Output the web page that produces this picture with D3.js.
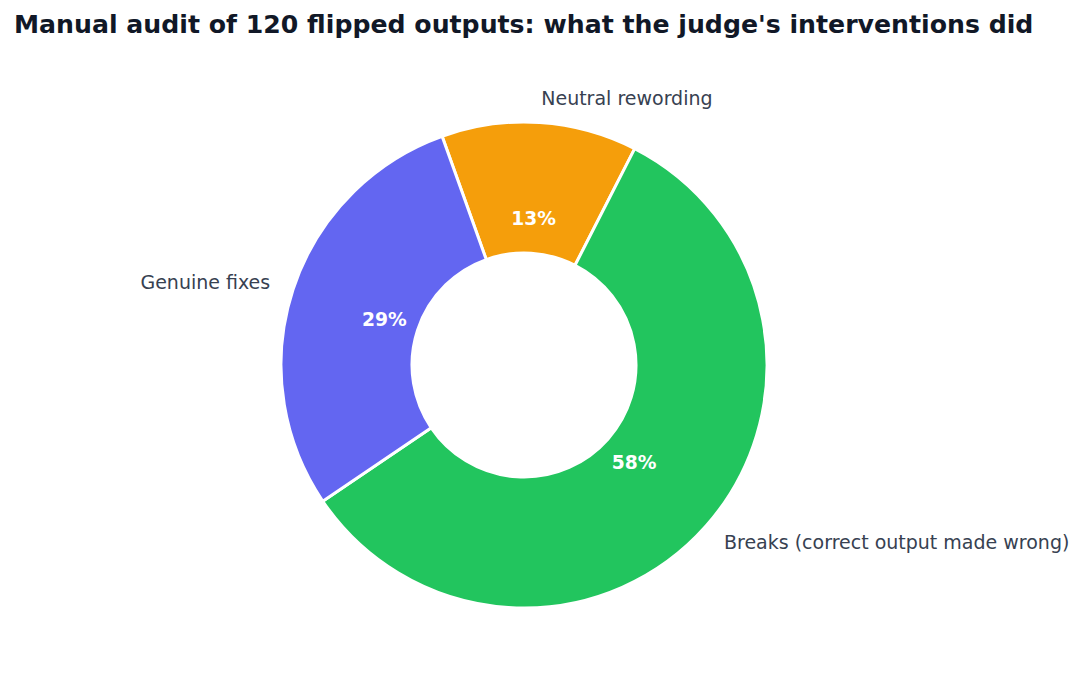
<!DOCTYPE html>
<html lang="en">
<head>
  <meta charset="UTF-8">
  <title>Manual audit</title>
  <style>
    body { margin: 0; background: #fff; }
  </style>
</head>
<body>
  <svg id="chart" width="1087" height="686" font-family="'DejaVu Sans', sans-serif"></svg>
<script src="https://cdn.jsdelivr.net/npm/d3@7"></script>
<script>
  // slices in clockwise order starting near the top
  const categories = ["Neutral rewording", "Breaks (correct output made wrong)", "Genuine fixes"]
  const shares = [13, 58, 29]
  const colors = ["#f59e0b", "#22c55e", "#6366f1"]

  const svg = d3.select("#chart")
  const cx = 524, cy = 365
  const rOuter = 243, rInner = 112

  svg.append("text")
     .attr("x", 14)
     .attr("y", 33)
     .attr("font-size", 25.2)
     .attr("font-weight", "bold")
     .attr("fill", "#111827")
     .text("Manual audit of 120 flipped outputs: what the judge's interventions did")

  const data = categories.map((c, i) => ({name: c, value: shares[i], color: colors[i]}))

  const start = -19.7 * Math.PI / 180
  const pie = d3.pie()
                .value(d => d.value)
                .sort(null)
                .startAngle(start)
                .endAngle(start + 2 * Math.PI)

  const arcs = pie(data)
  const arc = d3.arc().innerRadius(rInner).outerRadius(rOuter)
  const pctArc = d3.arc().innerRadius(147).outerRadius(147)
  const labelArc = d3.arc().innerRadius(267).outerRadius(267)

  const g = svg.append("g").attr("transform", `translate(${cx},${cy})`)

  g.selectAll("path")
   .data(arcs)
   .enter()
   .append("path")
   .attr("d", arc)
   .attr("fill", d => d.data.color)
   .attr("stroke", "#fff")
   .attr("stroke-width", 3)

  g.selectAll("text.pct")
   .data(arcs)
   .enter()
   .append("text")
   .attr("class", "pct")
   .attr("transform", d => `translate(${pctArc.centroid(d)})`)
   .attr("text-anchor", "middle")
   .attr("dy", "0.35em")
   .attr("font-size", 18.7)
   .attr("font-weight", "bold")
   .attr("fill", "#fff")
   .text(d => d.data.value + "%")

  g.selectAll("text.lab")
   .data(arcs)
   .enter()
   .append("text")
   .attr("class", "lab")
   .attr("transform", d => `translate(${labelArc.centroid(d)})`)
   .attr("text-anchor", d => labelArc.centroid(d)[0] >= 0 ? "start" : "end")
   .attr("dy", "0.35em")
   .attr("font-size", 19)
   .attr("fill", "#374151")
   .text(d => d.data.name)
</script>
</body>
</html>
